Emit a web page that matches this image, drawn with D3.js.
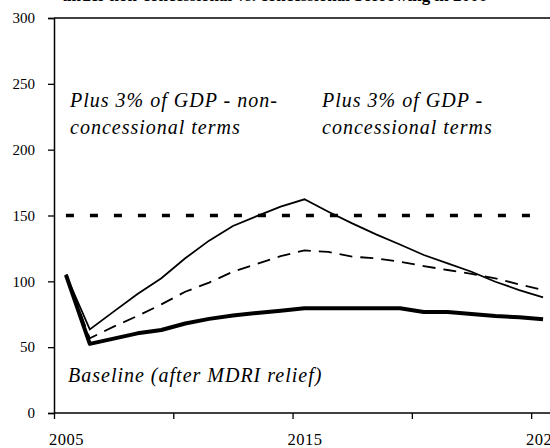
<!DOCTYPE html>
<html>
<head>
<meta charset="utf-8">
<script src="https://cdn.jsdelivr.net/npm/d3@7"></script>
<style>
  body { margin: 0; background: #fff; }
  svg { display: block; }
  text { font-family: "Liberation Serif", "Times New Roman", serif; fill: #000; }
</style>
</head>
<body>
<svg id="chart" width="550" height="448"></svg>
<script>
// years on the category axis, 2005 - 2025
var years = [ 2005, 2006, 2007, 2008, 2009, 2010, 2011, 2012, 2013, 2014, 2015,
              2016, 2017, 2018, 2019, 2020, 2021, 2022, 2023, 2024, 2025 ];

// baseline (after MDRI relief)
var baseline = [ 105, 52.5, 56.5, 60.5, 63, 68, 71.5, 74, 76, 77.7, 79.5,
                 79.5, 79.5, 79.5, 79.5, 76.7, 76.7, 75.2, 73.7, 72.7, 71.2 ];

// plus 3% of GDP - non-concessional terms
var nonConcessional = [ 105, 63.5, 77, 90.4, 102.3, 117.5, 130.9, 142, 149.5, 156.7, 162.3,
                        152.9, 144, 135.7, 128, 120, 113.7, 107.3, 99.7, 93.4, 87.9 ];

// plus 3% of GDP - concessional terms
var concessional = [ 105, 56.7, 65.6, 73.7, 82.5, 92.1, 99, 107.3, 113.2, 119.2, 123.5,
                     122.3, 118.7, 117.5, 114.9, 111.6, 108.6, 105.6, 102.3, 97.7, 93.4 ];

var threshold = 150;

var yTicks = [ 0, 50, 100, 150, 200, 250, 300 ];
var xLabelYears = [ 2005, 2015, 2025 ];
var xTickYears = [ 2004.5, 2009.5, 2014.5, 2019.5, 2024.5 ];

var svg = d3.select( "#chart" );

var plotLeft = 54, plotRight = 555, plotTop = 18, plotBottom = 413;

var x = d3.scaleLinear().domain( [ 2004.5, 2025.5 ] ).range( [ plotLeft, plotRight ] );
var y = d3.scaleLinear().domain( [ 0, 300 ] ).range( [ plotBottom, plotTop ] );

// title, mostly cut off at the top of the picture
svg.append( "text" )
    .attr( "x", 487 )
    .attr( "y", 1 )
    .attr( "text-anchor", "end" )
    .attr( "font-size", 17 )
    .attr( "font-weight", "bold" )
    .text( "under non-concessional vs. concessional borrowing in 2006" );

// top border of the plot area
svg.append( "line" )
    .attr( "x1", plotLeft ).attr( "x2", plotRight )
    .attr( "y1", plotTop ).attr( "y2", plotTop )
    .attr( "stroke", "#000" ).attr( "stroke-width", 1.5 );

// y axis
var yAxis = svg.append( "g" )
    .attr( "transform", "translate(" + plotLeft + ",0)" )
    .call( d3.axisLeft( y ).tickValues( yTicks ).tickSize( 6 ).tickPadding( 13 ) );
yAxis.select( ".domain" ).attr( "stroke-width", 1.5 );
yAxis.selectAll( ".tick line" ).attr( "stroke-width", 1.3 );
yAxis.selectAll( "text" )
    .attr( "font-size", 15 )
    .attr( "font-family", "Liberation Serif, serif" );

// x axis: ticks between categories, labels on categories
var xAxis = svg.append( "g" )
    .attr( "transform", "translate(0," + plotBottom + ")" )
    .call( d3.axisBottom( x ).tickValues( xTickYears ).tickSize( 6 ).tickFormat( "" ) );
xAxis.select( ".domain" ).attr( "stroke-width", 1.5 ).attr( "d", "M" + plotLeft + ",0H" + plotRight );
xAxis.selectAll( ".tick line" ).attr( "stroke-width", 1.3 );

var xLabels = svg.append( "g" )
    .attr( "transform", "translate(0," + plotBottom + ")" )
    .call( d3.axisBottom( x ).tickValues( xLabelYears ).tickSize( 0 ).tickPadding( 20 ).tickFormat( d3.format( "d" ) ) );
xLabels.select( ".domain" ).remove();
xLabels.selectAll( "text" )
    .attr( "font-size", 16.5 )
    .attr( "letter-spacing", 0.5 )
    .attr( "font-family", "Liberation Serif, serif" );

// threshold line
svg.append( "line" )
    .attr( "x1", x( years[ 0 ] ) ).attr( "x2", x( years[ years.length - 1 ] ) )
    .attr( "y1", y( threshold ) ).attr( "y2", y( threshold ) )
    .attr( "stroke", "#000" )
    .attr( "stroke-width", 3.5 )
    .attr( "stroke-dasharray", "8,16" );

var line = d3.line()
    .x( function ( d, i ) { return x( years[ i ] ); } )
    .y( function ( d ) { return y( d ); } );

svg.append( "path" )
    .datum( concessional )
    .attr( "d", line )
    .attr( "fill", "none" )
    .attr( "stroke", "#000" )
    .attr( "stroke-width", 1.8 )
    .attr( "stroke-dasharray", "13,8" );

svg.append( "path" )
    .datum( nonConcessional )
    .attr( "d", line )
    .attr( "fill", "none" )
    .attr( "stroke", "#000" )
    .attr( "stroke-width", 1.8 );

svg.append( "path" )
    .datum( baseline )
    .attr( "d", line )
    .attr( "fill", "none" )
    .attr( "stroke", "#000" )
    .attr( "stroke-width", 4 )
    .attr( "stroke-linejoin", "round" );

// series labels
function label( lines, lx, ly ) {
    var t = svg.append( "text" )
        .attr( "font-size", 20 )
        .attr( "font-style", "italic" )
        .attr( "letter-spacing", 1 );
    lines.forEach( function ( s, i ) {
        t.append( "tspan" ).attr( "x", lx ).attr( "y", ly + i * 27 ).text( s );
    } );
}

label( [ "Plus 3% of GDP - non-", "concessional terms" ], 70, 107 );
label( [ "Plus 3% of GDP -", "concessional terms" ], 322, 107 );
label( [ "Baseline (after MDRI relief)" ], 68, 382 );
</script>
</body>
</html>
